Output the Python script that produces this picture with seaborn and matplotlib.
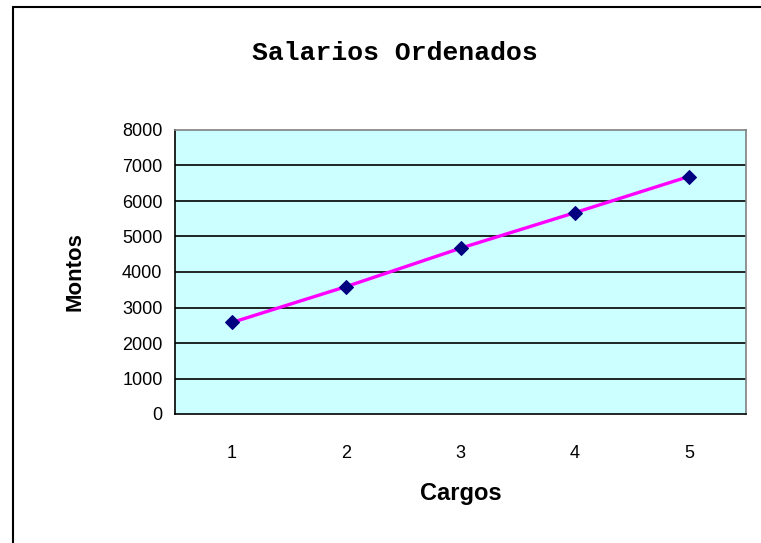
import numpy as np
import pandas as pd
import matplotlib
matplotlib.use('Agg')
import matplotlib.pyplot as plt
from matplotlib.patches import Rectangle
import seaborn as sns

# Datos
cargos = [1, 2, 3, 4, 5]
montos = [2580, 3590, 4670, 5670, 6690]
y_ticks = [0, 1000, 2000, 3000, 4000, 5000, 6000, 7000, 8000]

df = pd.DataFrame({'Cargos': cargos, 'Montos': montos})

sns.set_style('white')
plt.rcParams['font.family'] = ['Liberation Sans', 'DejaVu Sans']
plt.rcParams['text.color'] = 'black'
plt.rcParams['axes.labelcolor'] = 'black'
plt.rcParams['xtick.color'] = 'black'
plt.rcParams['ytick.color'] = 'black'

fig = plt.figure(figsize=(7.61, 5.43), dpi=100)
ax = fig.add_axes([175 / 761, 1 - 414 / 543, 571 / 761, 284 / 543])
ax.set_facecolor('#CCFFFF')

# Lineas de cuadricula horizontales
for v in y_ticks[1:-1]:
    ax.axhline(v, color='black', lw=1.2, zorder=1)

sns.lineplot(data=df, x='Cargos', y='Montos', ax=ax, color='#FF00FF', lw=2.4,
             marker='D', markersize=7, markerfacecolor='#000080',
             markeredgecolor='#000080', zorder=3)

ax.set_xlim(0.5, 5.5)
ax.set_ylim(0, 8000)
ax.set_yticks(y_ticks)
ax.set_yticklabels([str(v) for v in y_ticks], fontsize=13)

# Marcas entre categorias, etiquetas centradas
ax.set_xticks(np.arange(0.5, 6.0, 1.0))
ax.set_xticklabels([])
ax.set_xticks(cargos, minor=True)
ax.set_xticklabels([str(c) for c in cargos], minor=True, fontsize=13)
ax.tick_params(axis='x', which='major', direction='out', length=7, width=1.2, color='black')
ax.tick_params(axis='x', which='minor', length=0, pad=22)
ax.tick_params(axis='y', direction='out', length=6, width=1.2, color='black', pad=3)

for s in ['top', 'right']:
    ax.spines[s].set_color('#808080')
    ax.spines[s].set_linewidth(1.2)
for s in ['left', 'bottom']:
    ax.spines[s].set_color('black')
    ax.spines[s].set_linewidth(1.2)

ax.set_xlabel('Cargos', fontsize=17, fontweight='bold', labelpad=15)
ax.set_ylabel('Montos', fontsize=16, fontweight='bold', labelpad=26)

fig.text(395 / 761, 1 - 53 / 543, 'Salarios Ordenados', ha='center', va='center',
         fontsize=19, fontweight='bold', color='black',
         family=['Liberation Mono', 'DejaVu Sans Mono'])

# Marco del grafico
fig.patches.append(Rectangle((13 / 761, -0.1), 1.1, 1 - 7 / 543 + 0.1,
                             transform=fig.transFigure, fill=False,
                             edgecolor='black', lw=1.5))

fig.savefig('out.png', dpi=100)
